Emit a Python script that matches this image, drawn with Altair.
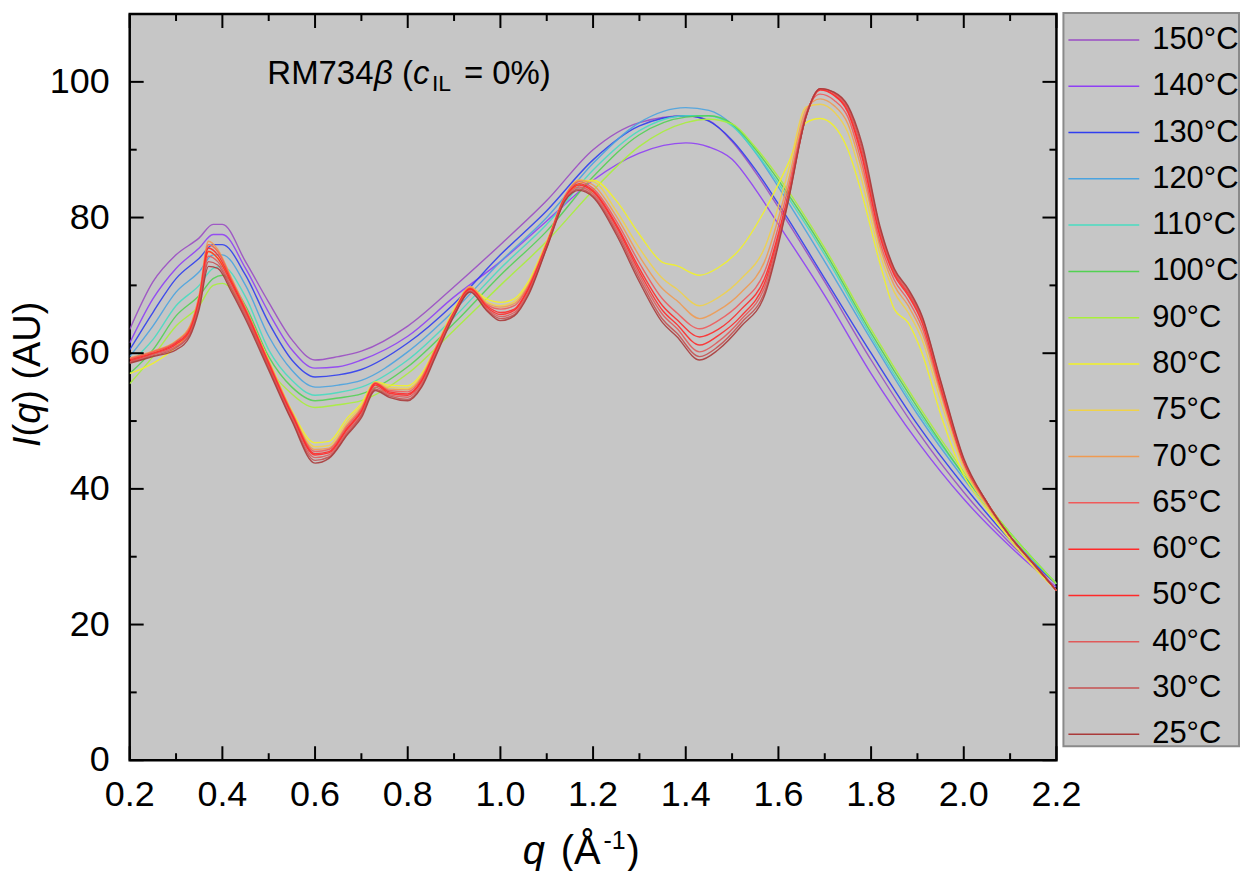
import altair as alt
import pandas as pd

# ---------------- data ----------------
temps = ["150°C", "140°C", "130°C", "120°C", "110°C", "100°C", "90°C", "80°C",
         "75°C", "70°C", "65°C", "60°C", "50°C", "40°C", "30°C", "25°C"]
colors = ["#9a4cc4", "#8f3ff5", "#2f3df0", "#4aa3e0", "#47dcc0", "#52d152", "#a8f03a", "#f2f226",
          "#efd24a", "#ef9a52", "#f05a5a", "#ff2a2a", "#ff2a2a", "#e05a5a", "#c65050", "#aa3a3a"]

# q grid for the isotropic / high temperature scans
q_high = [0.2, 0.25, 0.3, 0.35, 0.38, 0.4, 0.45, 0.5, 0.55, 0.6, 0.65, 0.7, 0.8, 0.9, 1.0,
          1.1, 1.2, 1.3, 1.4, 1.45, 1.5, 1.55, 1.6, 1.7, 1.8, 1.9, 2.0, 2.1, 2.2]
I_150 = [63.5, 70.5, 74.5, 77, 79, 79, 73.5, 67.5, 62, 59, 59.5, 60.3, 64, 69.8, 76, 82.5, 90, 94, 95, 94.3, 91.2, 86.7, 81.5, 70.5, 59, 48.5, 39.5, 32, 26]
I_140 = [61.5, 68, 72.5, 75.5, 77.5, 77.5, 72.5, 66, 60.5, 57.8, 58, 59, 62.5, 68.3, 73.5, 79.5, 85.5, 89.5, 91, 90.4, 88.6, 84.2, 79, 68.5, 57, 47, 38.5, 31.5, 25.5]
I_130 = [60.5, 66, 71, 74, 76, 76, 71.5, 64.5, 59, 56.5, 56.8, 57.6, 61.5, 67.3, 74.5, 81, 88.5, 93.5, 95, 94.2, 91.4, 87.1, 82, 71, 60, 49.5, 40.5, 32.5, 26]
I_120 = [59.5, 64, 69, 72, 74.5, 74.5, 70, 62.5, 57.5, 55, 55.3, 56, 60.2, 66.3, 73.5, 80, 88, 94, 96.2, 95.8, 93.7, 89.6, 84.5, 73.5, 62, 51, 41.5, 33, 26]
I_110 = [58.5, 62, 67, 70, 72.5, 72.8, 68.3, 60.5, 56, 53.8, 54.2, 55, 59, 65.3, 72.5, 79, 87, 92.8, 95, 95, 93.5, 89.7, 85, 74.5, 62.5, 51.5, 42, 33.5, 26]
I_100 = [57, 60.5, 65.5, 68.5, 71, 71.5, 67, 59.5, 55, 53, 53.4, 54, 58, 64.4, 71.5, 78, 86, 92.2, 94.8, 95, 93.8, 90.1, 85.5, 75, 63, 52, 42, 33.5, 26]
I_90 = [55.5, 59.5, 64, 67, 70, 70.3, 66, 58, 54, 52, 52.4, 53, 57, 63.4, 70, 76.5, 84, 90.5, 94, 94.5, 93.8, 90.4, 86, 75.5, 63.5, 52.5, 42.5, 33.5, 26]

# q grid for the ordered / low temperature scans
q_low = [0.2, 0.25, 0.3, 0.33, 0.35, 0.37, 0.39, 0.42, 0.45, 0.5, 0.55, 0.6, 0.63, 0.67, 0.7,
         0.73, 0.76, 0.8, 0.83, 0.86, 0.9, 0.935, 0.97, 1.0, 1.03, 1.06, 1.1, 1.14, 1.17, 1.2,
         1.25, 1.3, 1.35, 1.38, 1.43, 1.47, 1.52, 1.57, 1.62, 1.66, 1.69, 1.72, 1.75, 1.78,
         1.82, 1.85, 1.88, 1.91, 1.95, 2.0, 2.05, 2.1, 2.15, 2.2]
I_80 = [57, 58.5, 61, 63.5, 67.5, 75, 74, 70.5, 66.3, 59, 51.5, 46.8, 47, 50.5, 52.6, 55.8, 55.3, 55.2, 57, 60.8, 66.5, 69.6, 68, 67.5, 68, 70.5, 76.5, 82.8, 85, 85.5, 82.5, 77.5, 73.4, 72.9, 71.5, 72.6, 75.6, 81, 87.8, 94, 94.6, 93.5, 90, 83.5, 73, 66.5, 64.5, 60, 51, 42, 37, 32.5, 28.5, 25]
I_75 = [59.2, 60.2, 61.8, 64, 68.5, 76, 75, 71, 66.6, 58.9, 51.4, 46.2, 46.4, 50, 52.3, 55.7, 55, 54.8, 56.7, 60.6, 66.3, 69.8, 67.6, 67, 67.6, 70.2, 76.4, 83.2, 85.5, 85.3, 81, 75.5, 71, 69.5, 67, 68.2, 71, 75.5, 86.5, 96.3, 96.7, 95.6, 92.5, 85.5, 74.5, 69, 66, 62, 53, 43, 37.4, 32.8, 28.8, 25]
I_70 = [59.3, 60.3, 61.8, 64, 68.6, 76.5, 75.3, 71, 66.7, 58.8, 51.3, 45.8, 46, 49.6, 52, 55.7, 54.7, 54.6, 56.5, 60.8, 66.2, 69.8, 67.4, 66.8, 67.3, 70, 76.3, 83.3, 85.5, 84.8, 80.2, 74.3, 69.5, 67.8, 65.1, 66.3, 69, 73.5, 85, 96, 97.5, 96.5, 93.8, 87, 75.5, 70, 67, 63, 54, 43.5, 37.6, 33, 29, 25]
I_65 = [59.2, 60.2, 61.7, 63.8, 68.3, 76, 75, 70.8, 66.5, 58.7, 51.2, 45.5, 45.8, 49.3, 51.8, 55.6, 54.5, 54.3, 56.3, 60.6, 66.1, 69.6, 67.2, 66.5, 67, 69.8, 76.2, 83.2, 85.3, 84.3, 79.5, 73.3, 68, 66, 63.6, 64.8, 67.5, 72, 84, 95.5, 98.2, 97.3, 94.8, 88, 76.2, 70.8, 67.8, 63.8, 54.5, 43.8, 37.8, 33, 29, 25]
I_60 = [59, 60, 61.5, 63.5, 68, 75.5, 74.5, 70.5, 66.3, 58.5, 51, 45.2, 45.5, 49, 51.5, 55.5, 54.3, 54, 56, 60.4, 66, 69.5, 67, 66, 66.5, 69.5, 76, 83, 85, 84, 79, 72.5, 67, 65, 62.4, 63.5, 66.5, 71, 83, 95, 98.8, 98, 95.5, 89, 77, 71.5, 68.5, 64.5, 55, 44, 38, 33, 29, 25]
I_50 = [58.8, 59.9, 61.3, 63.3, 67.7, 75, 74, 70.2, 66, 58.2, 50.8, 45, 45.3, 48.8, 51.3, 55.3, 54.1, 53.8, 55.8, 60.2, 65.9, 69.4, 66.8, 65.7, 66.3, 69.3, 75.9, 82.9, 84.8, 83.8, 78.7, 72, 66.3, 64.3, 61.2, 62.6, 65.5, 70.3, 82.7, 95, 98.9, 98.1, 95.8, 89.5, 77.4, 71.8, 68.8, 64.8, 55.3, 44.1, 38, 33, 29, 25]
I_40 = [58.7, 59.8, 61, 63, 67.3, 74.3, 73.5, 69.8, 65.8, 58, 50.5, 44.6, 45, 48.5, 51, 55, 53.9, 53.5, 55.5, 60, 65.8, 69.2, 66.6, 65.4, 66, 69, 75.8, 82.8, 84.5, 83.5, 78.3, 71.5, 65.7, 63.7, 60.2, 61.7, 65, 69.7, 82.5, 95, 99, 98.3, 96, 90, 77.8, 72, 69, 65, 55.5, 44.2, 38, 33, 29, 25]
I_30 = [58.6, 59.6, 60.8, 62.8, 66.9, 73.5, 73, 69.4, 65.4, 57.8, 50.2, 44.2, 44.7, 48.2, 50.8, 54.7, 53.7, 53.2, 55.2, 59.7, 65.6, 69.1, 66.4, 65.1, 65.7, 68.7, 75.6, 82.6, 84.2, 83.2, 77.9, 71, 65, 63, 59.5, 61, 64.5, 69, 82.2, 95, 99, 98.4, 96.3, 90.5, 78.2, 72.3, 69.3, 65.3, 55.8, 44.3, 38, 33, 29, 25]
I_25 = [58.5, 59.5, 60.5, 62.5, 66.5, 72.8, 72.5, 69, 65, 57.5, 50, 43.8, 44.5, 48, 50.5, 54.5, 53.5, 53, 55, 59.5, 65.5, 69, 66.3, 64.8, 65.5, 68.5, 75.5, 82.5, 84, 83, 77.5, 70.5, 64.5, 62.5, 59, 60.5, 64, 68.5, 82, 95, 99, 98.5, 96.5, 91, 78.5, 72.5, 69.5, 65.5, 56, 44.5, 38, 33, 29, 25]

x_major = [0.2, 0.4, 0.6, 0.8, 1.0, 1.2, 1.4, 1.6, 1.8, 2.0, 2.2]
x_minor = [0.3, 0.5, 0.7, 0.9, 1.1, 1.3, 1.5, 1.7, 1.9, 2.1]
x_labels = ["0.2", "0.4", "0.6", "0.8", "1.0", "1.2", "1.4", "1.6", "1.8", "2.0", "2.2"]
y_major = [0, 20, 40, 60, 80, 100]
y_minor = [10, 30, 50, 70, 90]
y_labels = ["0", "20", "40", "60", "80", "100"]

high_series = {"150°C": I_150, "140°C": I_140, "130°C": I_130, "120°C": I_120,
               "110°C": I_110, "100°C": I_100, "90°C": I_90}
low_series = {"80°C": I_80, "75°C": I_75, "70°C": I_70, "65°C": I_65, "60°C": I_60,
              "50°C": I_50, "40°C": I_40, "30°C": I_30, "25°C": I_25}

rows = []
for t, vals in high_series.items():
    for q, v in zip(q_high, vals):
        rows.append({"T": t, "q": q, "I": v})
for t, vals in low_series.items():
    for q, v in zip(q_low, vals):
        rows.append({"T": t, "q": q, "I": v})
df = pd.DataFrame(rows)

# ---------------- chart ----------------
W, H = 929, 748
FONT = "Liberation Sans"
MAJ, MIN = 14, 7

xscale = alt.Scale(domain=[0.2, 2.2], nice=False, zero=False)
yscale = alt.Scale(domain=[0, 110], nice=False, zero=False)
color = alt.Color("T:N", scale=alt.Scale(domain=temps, range=colors), legend=None)

lines = alt.Chart(df).mark_line(strokeWidth=1.4, opacity=0.9, interpolate="monotone", clip=True).encode(
    x=alt.X("q:Q", scale=xscale, axis=None),
    y=alt.Y("I:Q", scale=yscale, axis=None),
    color=color,
    order=alt.Order("q:Q"),
)


def xticks(vals, length, top):
    d = pd.DataFrame({"q": vals})
    enc = dict(x=alt.X("q:Q", scale=xscale, axis=None))
    if top:
        enc.update(y=alt.value(0), y2=alt.value(length))
    else:
        enc.update(y=alt.value(H), y2=alt.value(H - length))
    return alt.Chart(d).mark_rule(color="black", strokeWidth=2).encode(**enc)


def yticks(vals, length, right):
    d = pd.DataFrame({"v": vals})
    enc = dict(y=alt.Y("v:Q", scale=yscale, axis=None))
    if right:
        enc.update(x=alt.value(W), x2=alt.value(W - length))
    else:
        enc.update(x=alt.value(0), x2=alt.value(length))
    return alt.Chart(d).mark_rule(color="black", strokeWidth=2).encode(**enc)


tick_layers = [xticks(x_major, MAJ, False), xticks(x_minor, MIN, False),
               xticks(x_major, MAJ, True), xticks(x_minor, MIN, True),
               yticks(y_major, MAJ, False), yticks(y_minor, MIN, False),
               yticks(y_major, MAJ, True), yticks(y_minor, MIN, True)]

# tick labels placed through the scales
xlab = alt.Chart(pd.DataFrame({"q": x_major, "lab": x_labels})).mark_text(
    font=FONT, fontSize=36, color="black", align="center", baseline="top").encode(
    x=alt.X("q:Q", scale=xscale, axis=None), y=alt.value(H + 18), text="lab:N")
ylab = alt.Chart(pd.DataFrame({"v": y_major, "lab": y_labels})).mark_text(
    font=FONT, fontSize=36, color="black", align="right", baseline="middle").encode(
    y=alt.Y("v:Q", scale=yscale, axis=None), x=alt.value(-20), text="lab:N")

one = pd.DataFrame({"a": [0]})


def txt(s, x, y, size, italic=False, angle=0, align="left", baseline="alphabetic"):
    kw = dict(font=FONT, fontSize=size, color="black", align=align, baseline=baseline)
    if italic:
        kw["fontStyle"] = "italic"
    if angle:
        kw["angle"] = angle
    return alt.Chart(one).mark_text(**kw).encode(x=alt.value(x), y=alt.value(y), text=alt.value(s))


# annotation  RM734β (c_IL = 0%)
annot = [
    txt("RM734", 138, 70, 33),
    txt("β", 245, 70, 33, italic=True),
    txt("(", 273, 70, 33),
    txt("c", 284, 70, 33, italic=True),
    txt("IL", 303, 77, 23),
    txt("= 0%)", 335, 70, 33),
]

# x axis title  q (Å-1)
xtitle = [
    txt("q", 394, 852, 40, italic=True),
    txt("(Å", 432, 852, 40),
    txt("-1", 475, 837, 25),
    txt(")", 498, 852, 40),
]

# y axis title  I(q) (AU), rotated
ytitle = [
    txt("I", -90, 434, 38, italic=True, angle=270),
    txt("(", -90, 423.4, 38, angle=270),
    txt("q", -90, 410.7, 38, italic=True, angle=270),
    txt(") (AU)", -90, 389.6, 38, angle=270),
]

main = alt.layer(lines, *tick_layers, xlab, ylab, *annot, *xtitle, *ytitle)

# legend drawn by hand to the right of the plot
leg_df = pd.DataFrame({"T": temps})
leg_y = alt.Y("T:N", sort=temps, scale=alt.Scale(type="point", domain=temps, padding=0.56), axis=None)
leg_box = alt.Chart(one).mark_rect(fill="#c6c6c6", stroke="#8a8a8a", strokeWidth=2).encode(
    x=alt.value(936), x2=alt.value(1112), y=alt.value(-1), y2=alt.value(734))
leg_rules = alt.Chart(leg_df).mark_rule(strokeWidth=1.5).encode(
    y=leg_y, x=alt.value(941), x2=alt.value(1012), color=color)
leg_text = alt.Chart(leg_df).mark_text(align="left", baseline="middle", font=FONT, fontSize=31,
                                       color="black").encode(y=leg_y, x=alt.value(1025), text="T:N")
legend = alt.layer(leg_box, leg_rules, leg_text)

chart = alt.layer(main, legend).resolve_scale(y="independent").properties(
    width=W, height=H,
    padding={"left": 122, "top": 5, "right": 185, "bottom": 110},
    autosize=alt.AutoSizeParams(type="none"),
    background="white",
).configure_view(fill="#c6c6c6", stroke="black", strokeWidth=2.5)

chart.save("out.html", embed_options={"renderer": "svg", "actions": False})
